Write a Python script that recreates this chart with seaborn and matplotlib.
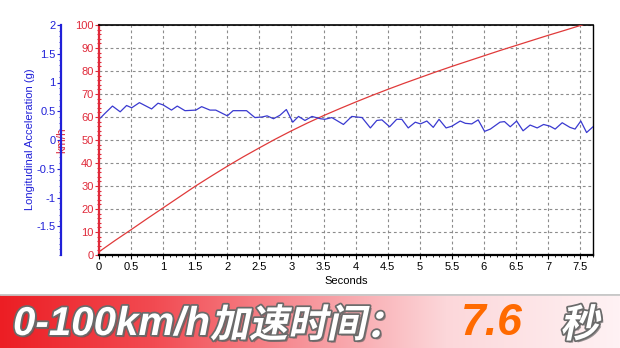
import numpy as np
import matplotlib
matplotlib.use("Agg")
import matplotlib.pyplot as plt
import seaborn as sns
from matplotlib import patheffects as pe
from matplotlib.ticker import MultipleLocator
from matplotlib.transforms import Affine2D

# ---------------- data ----------------
speed_t = [0, 0.25, 0.5, 0.75, 1.0, 1.25, 1.5, 1.75, 2.0, 2.25, 2.5, 2.75, 3.0, 3.25,
           3.5, 3.75, 4.0, 4.25, 4.5, 4.75, 5.0, 5.25, 5.5, 5.75, 6.0, 6.25, 6.5,
           6.75, 7.0, 7.25, 7.55]
speed_kmh = [1.4, 6.3, 11.0, 15.8, 20.5, 25.2, 29.9, 34.3, 38.6, 42.7, 46.6, 50.4, 54.0,
             57.4, 60.6, 63.6, 66.5, 69.3, 72.0, 74.6, 77.1, 79.6, 82.0, 84.3, 86.6,
             88.9, 91.1, 93.3, 95.5, 97.6, 100.2]

acc_t = [0.02, 0.09, 0.21, 0.33, 0.43, 0.51, 0.63, 0.82, 0.92, 1.00, 1.13, 1.22, 1.34,
         1.51, 1.60, 1.73, 1.82, 2.00, 2.09, 2.30, 2.43, 2.54, 2.62, 2.72, 2.82, 2.92,
         3.02, 3.11, 3.21, 3.32, 3.45, 3.52, 3.63, 3.81, 3.94, 4.10, 4.23, 4.33, 4.41,
         4.53, 4.64, 4.72, 4.82, 4.93, 5.01, 5.11, 5.21, 5.30, 5.41, 5.50, 5.63, 5.71,
         5.81, 5.91, 6.01, 6.10, 6.25, 6.32, 6.41, 6.51, 6.61, 6.72, 6.83, 6.93, 7.03,
         7.11, 7.22, 7.34, 7.42, 7.51, 7.60, 7.71]
acc_g = [0.38, 0.46, 0.59, 0.49, 0.60, 0.56, 0.65, 0.54, 0.64, 0.61, 0.52, 0.59, 0.51,
         0.52, 0.58, 0.52, 0.52, 0.42, 0.51, 0.51, 0.39, 0.40, 0.42, 0.37, 0.43, 0.53,
         0.31, 0.41, 0.34, 0.41, 0.37, 0.36, 0.39, 0.27, 0.41, 0.39, 0.21, 0.34, 0.35,
         0.23, 0.36, 0.36, 0.21, 0.31, 0.28, 0.33, 0.22, 0.36, 0.21, 0.24, 0.33, 0.29,
         0.28, 0.35, 0.15, 0.19, 0.31, 0.32, 0.23, 0.33, 0.16, 0.26, 0.21, 0.27, 0.24,
         0.19, 0.30, 0.22, 0.19, 0.33, 0.13, 0.24]

x_ticks = [0, 0.5, 1, 1.5, 2, 2.5, 3, 3.5, 4, 4.5, 5, 5.5, 6, 6.5, 7, 7.5]
x_tick_labels = ["0", "0.5", "1", "1.5", "2", "2.5", "3", "3.5", "4", "4.5", "5",
                 "5.5", "6", "6.5", "7", "7.5"]
speed_ticks = [0, 10, 20, 30, 40, 50, 60, 70, 80, 90, 100]
acc_ticks = [-1.5, -1, -0.5, 0, 0.5, 1, 1.5, 2]
acc_tick_labels = ["-1.5", "-1", "-0.5", "0", "0.5", "1", "1.5", "2"]

x_label = "Seconds"
speed_label = "km/h"
acc_label = "Longitudinal Acceleration (g)"
banner_a = "0-100km/h"
banner_b = "加速时间："
banner_val = "7.6"
banner_unit = "秒"

# ---------------- style ----------------
RED = "#e02a3a"
RED_LINE = "#e03a3a"
BLUE = "#2020d8"
BLUE_LINE = "#3a3ad0"
GRID = "#8c8c8c"

sns.set_theme(style="white")
plt.rcParams["font.family"] = ["Liberation Sans", "DejaVu Sans"]

W, H = 620, 348
fig = plt.figure(figsize=(W / 100, H / 100), dpi=100)
fig.patch.set_facecolor("white")

x0, x1, yt, yb = 99, 593, 25, 255
ax = fig.add_axes([x0 / W, 1 - yb / H, (x1 - x0) / W, (yb - yt) / H])
ax.set_facecolor("white")
ax2 = ax.twinx()

sns.lineplot(x=speed_t, y=speed_kmh, ax=ax, color=RED_LINE, lw=0.9, zorder=3)
sns.lineplot(x=acc_t, y=acc_g, ax=ax2, color=BLUE_LINE, lw=0.9, zorder=3)

ax.set_xlim(0, 7.70)
ax.set_ylim(0, 100)
ax2.set_ylim(-2, 2)

# x axis
ax.set_xticks(x_ticks)
ax.set_xticklabels(x_tick_labels, fontsize=8, color="black")
ax.xaxis.set_minor_locator(MultipleLocator(0.1))
ax.tick_params(axis="x", which="major", direction="out", length=3, width=0.8,
               color="black", pad=2, bottom=True)
ax.tick_params(axis="x", which="minor", direction="out", length=1.5, width=0.6,
               color="black", bottom=True)
ax.set_xlabel(x_label, fontsize=8, color="black", labelpad=3)

# red speed axis
ax.set_yticks(speed_ticks)
ax.set_yticklabels([str(v) for v in speed_ticks], fontsize=8, color=RED)
ax.yaxis.set_minor_locator(MultipleLocator(2))
ax.tick_params(axis="y", which="major", direction="out", length=3, width=0.8,
               color=RED, pad=1, left=True)
ax.tick_params(axis="y", which="minor", direction="inout", length=2.5, width=0.8,
               color=RED, left=True)
ax.set_ylabel(speed_label, fontsize=8.5, color=RED)
ax.yaxis.set_label_coords((68 - x0) / (x1 - x0), 0.5)

ax.grid(True, which="major", color=GRID, linestyle=(0, (2.5, 2.5)), linewidth=0.8)
ax.set_axisbelow(True)

for s in ["top", "right", "bottom"]:
    ax.spines[s].set_visible(True)
    ax.spines[s].set_color("black")
ax.spines["top"].set_linewidth(1.2)
ax.spines["right"].set_linewidth(1.0)
ax.spines["bottom"].set_linewidth(1.6)
ax.spines["left"].set_color(RED)
ax.spines["left"].set_linewidth(1.6)

# blue acceleration axis (on left, offset)
ax2.yaxis.set_ticks_position("left")
ax2.yaxis.set_label_position("left")
ax2.spines["left"].set_visible(True)
ax2.spines["left"].set_position(("outward", (x0 - 61) * 72 / 100))
ax2.spines["left"].set_color(BLUE)
ax2.spines["left"].set_linewidth(1.6)
for s in ["right", "top", "bottom"]:
    ax2.spines[s].set_visible(False)
ax2.set_yticks(acc_ticks)
ax2.set_yticklabels(acc_tick_labels, fontsize=8, color=BLUE)
ax2.yaxis.set_minor_locator(MultipleLocator(0.1))
ax2.tick_params(axis="y", which="major", direction="out", length=3, width=0.8,
                color=BLUE, pad=1, left=True, right=False)
ax2.tick_params(axis="y", which="minor", direction="out", length=1.5, width=0.6,
                color=BLUE, left=True, right=False)
ax2.set_ylabel(acc_label, fontsize=8, color=BLUE)
ax2.yaxis.set_label_coords((35 - x0) / (x1 - x0), 0.505)
ax2.grid(False)

# ---------------- banner ----------------
btop = 294
bax = fig.add_axes([0, 0, 1, (H - btop) / H])
xs = np.linspace(0, 1, W)
stops = [0.0, 0.25, 0.5, 0.72, 1.0]
rs = [236, 242, 247, 252, 255]
gs = [30, 75, 150, 215, 242]
bs = [36, 82, 156, 218, 244]
grad = np.stack([np.interp(xs, stops, rs), np.interp(xs, stops, gs),
                 np.interp(xs, stops, bs)], axis=-1) / 255.0
bax.imshow(grad[None, :, :], aspect="auto", extent=[0, 1, 0, 1])
bax.set_xlim(0, 1)
bax.set_ylim(0, 1)
bax.axhline(1, color="#c8c8c8", lw=2)
bax.axis("off")


class Skewed(pe.AbstractPathEffect):
    """Apply a horizontal shear to the glyph paths (synthetic italic)."""

    def __init__(self, effects, angle=12):
        super().__init__()
        self.effects = effects
        self.angle = angle

    def draw_path(self, renderer, gc, tpath, affine, rgbFace=None):
        a = Affine2D().skew_deg(self.angle, 0) + affine
        for e in self.effects:
            e.draw_path(renderer, gc, tpath, a, rgbFace)


def outline():
    return [pe.withSimplePatchShadow(offset=(1.5, -1.5), shadow_rgbFace="#555555", alpha=0.6),
            pe.withStroke(linewidth=2.5, foreground="#6a6a6a")]


base_y = 1 - 335 / H
fig.text(13 / W, base_y, banner_a, fontsize=29, fontweight="bold", fontstyle="italic",
         family=["Liberation Sans", "DejaVu Sans"], color="white", va="baseline",
         path_effects=outline())
fig.text(210 / W, base_y - 0.006, banner_b, fontsize=28, fontweight="bold",
         family=["Noto Sans CJK SC", "DejaVu Sans"], color="white", va="baseline",
         path_effects=[Skewed(outline(), 12)])
fig.text(461 / W, base_y, banner_val, fontsize=32, fontweight="bold", fontstyle="italic",
         family=["Liberation Sans", "DejaVu Sans"], color="#ff6a00", va="baseline")
fig.text(560 / W, base_y - 0.006, banner_unit, fontsize=28, fontweight="bold",
         family=["Noto Sans CJK SC", "DejaVu Sans"], color="white", va="baseline",
         path_effects=[Skewed(outline(), 12)])

fig.savefig("out.png", dpi=100, facecolor="white")
